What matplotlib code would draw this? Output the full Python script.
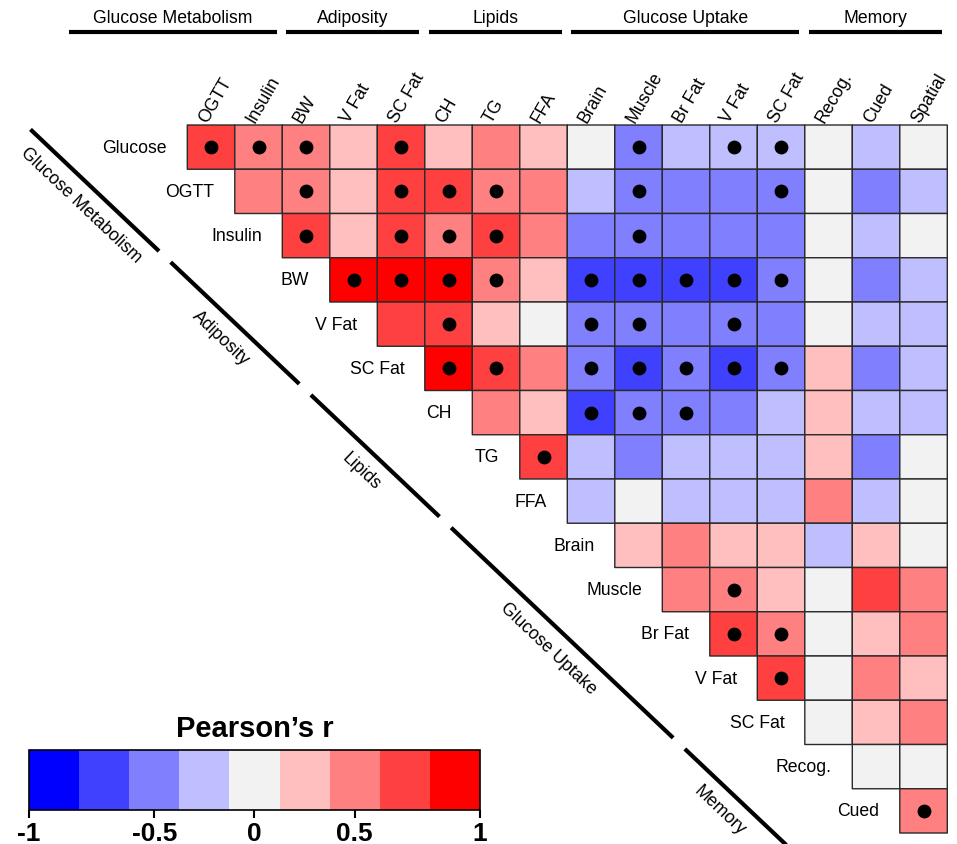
import numpy as np
import matplotlib
matplotlib.use("Agg")
import matplotlib.pyplot as plt
from matplotlib.colors import ListedColormap, BoundaryNorm

plt.rcParams["font.family"] = ["Liberation Sans", "DejaVu Sans"]

# ---- data ----
row_labels = ["Glucose", "OGTT", "Insulin", "BW", "V Fat", "SC Fat", "CH", "TG", "FFA",
              "Brain", "Muscle", "Br Fat", "V Fat", "SC Fat", "Recog.", "Cued"]
col_labels = ["OGTT", "Insulin", "BW", "V Fat", "SC Fat", "CH", "TG", "FFA",
              "Brain", "Muscle", "Br Fat", "V Fat", "SC Fat", "Recog.", "Cued", "Spatial"]

# upper triangle, row i holds columns i..15 (Pearson's r)
r_glucose = [0.75, 0.5, 0.5, 0.25, 0.75, 0.25, 0.5, 0.25, 0, -0.5, -0.25, -0.25, -0.25, 0, -0.25, 0]
r_ogtt = [0.5, 0.5, 0.25, 0.75, 0.75, 0.5, 0.5, -0.25, -0.5, -0.5, -0.5, -0.5, 0, -0.5, -0.25]
r_insulin = [0.75, 0.25, 0.75, 0.5, 0.75, 0.5, -0.5, -0.5, -0.5, -0.5, -0.5, 0, -0.25, 0]
r_bw = [1, 1, 1, 0.5, 0.25, -0.75, -0.75, -0.75, -0.75, -0.5, 0, -0.5, -0.25]
r_vfat = [0.75, 0.75, 0.25, 0, -0.5, -0.5, -0.5, -0.5, -0.5, 0, -0.25, -0.25]
r_scfat = [1, 0.75, 0.5, -0.5, -0.75, -0.5, -0.75, -0.5, 0.25, -0.5, -0.25]
r_ch = [0.5, 0.25, -0.75, -0.5, -0.5, -0.5, -0.25, 0.25, -0.25, -0.25]
r_tg = [0.75, -0.25, -0.5, -0.25, -0.25, -0.25, 0.25, -0.5, 0]
r_ffa = [-0.25, 0, -0.25, -0.25, -0.25, 0.5, -0.25, 0]
r_brain = [0.25, 0.5, 0.25, 0.25, -0.25, 0.25, 0]
r_muscle = [0.5, 0.5, 0.25, 0, 0.75, 0.5]
r_brfat = [0.75, 0.5, 0, 0.25, 0.5]
r_vfat_up = [0.75, 0, 0.5, 0.25]
r_scfat_up = [0, 0.25, 0.5]
r_recog = [0, 0]
r_cued = [0.5]
rows_r = [r_glucose, r_ogtt, r_insulin, r_bw, r_vfat, r_scfat, r_ch, r_tg, r_ffa,
          r_brain, r_muscle, r_brfat, r_vfat_up, r_scfat_up, r_recog, r_cued]

# significant cells: row -> column indices
sig = {0: [0, 1, 2, 4, 9, 11, 12], 1: [2, 4, 5, 6, 9, 12], 2: [2, 4, 5, 6, 9],
       3: [3, 4, 5, 6, 8, 9, 10, 11, 12], 4: [5, 8, 9, 11], 5: [5, 6, 8, 9, 10, 11, 12],
       6: [8, 9, 10], 7: [7], 10: [11], 11: [11, 12], 12: [12], 15: [15]}

group_names = ["Glucose Metabolism", "Adiposity", "Lipids", "Glucose Uptake", "Memory"]
group_rows = [3, 3, 3, 5, 3]
group_cols = [2, 3, 3, 5, 3]

bin_colors = ["#0000FF", "#4040FF", "#8080FF", "#BFBFFF", "#F2F2F2",
              "#FFBFBF", "#FF8080", "#FF4040", "#FF0000"]

n = len(row_labels)
M = np.full((n, n), np.nan)
for i, vals in enumerate(rows_r):
    M[i, i:] = vals
M = np.ma.masked_invalid(M)

cmap = ListedColormap(bin_colors)
norm = BoundaryNorm(np.linspace(-1.125, 1.125, 10), cmap.N)

W, H = 957, 845
FS = 12.7
fig = plt.figure(figsize=(W / 100, H / 100), dpi=100)
ax = fig.add_axes([187.3 / W, (H - 834) / H, 760 / W, 708 / H])
# pcolor drops masked cells, so the lower triangle stays empty
mesh = ax.pcolor(np.arange(n + 1), np.arange(n + 1), M, cmap=cmap, norm=norm,
                 edgecolors="#2a2a2a", linewidth=1.0)
mesh.set_clip_on(False)
ax.set_xlim(0, n)
ax.set_ylim(n, 0)
ax.axis("off")

# significance dots
sx = [j + 0.5 for i in sig for j in sig[i]]
sy = [i + 0.5 for i in sig for j in sig[i]]
ax.scatter(sx, sy, s=80, color="black", zorder=3, clip_on=False)

# labels
for i, lab in enumerate(row_labels):
    ax.text(i - 0.43, i + 0.5, lab, ha="right", va="center", fontsize=FS)
for j, lab in enumerate(col_labels):
    ax.text(j + 0.33, -0.1, lab, rotation=60, rotation_mode="anchor",
            ha="left", va="center", fontsize=FS, clip_on=False)

# group headers on top
c0 = 0
for k, (name, nc) in enumerate(zip(group_names, group_cols)):
    a = -2.5 if k == 0 else c0 + 0.08
    b = c0 + nc - 0.12
    ax.plot([a, b], [-2.1, -2.1], color="black", lw=3, solid_capstyle="butt", clip_on=False)
    ax.text((a + b) / 2, -2.44, name, ha="center", va="center", fontsize=FS)
    c0 += nc

# group lines along the diagonal
r0 = 0
for name, nr in zip(group_names, group_rows):
    y0, y1 = r0 + 0.1, r0 + nr - 0.15
    x0, x1 = 0.984 * y0 - 3.4, 0.984 * y1 - 3.4
    ax.plot([x0, x1], [y0, y1], color="black", lw=3, solid_capstyle="butt", clip_on=False)
    p0 = ax.transData.transform((x0, y0))
    p1 = ax.transData.transform((x1, y1))
    ang = np.degrees(np.arctan2(p1[1] - p0[1], p1[0] - p0[0]))
    ym = (y0 + min(y1, 16.2)) / 2
    xm = 0.984 * ym - 3.4
    ax.annotate(name, xy=(xm, ym), xytext=(-10, -10.5), textcoords="offset points",
                rotation=ang, rotation_mode="anchor", ha="center", va="center",
                fontsize=FS, annotation_clip=False)
    r0 += nr

# colour bar
cax = fig.add_axes([29 / W, (H - 811) / H, 451 / W, 60.3 / H])
cb = fig.colorbar(mesh, cax=cax, orientation="horizontal")
cb.minorticks_off()
cb.set_ticks([-1.125, -0.5, 0, 0.5, 1.125])
cb.set_ticklabels(["-1", "-0.5", "0", "0.5", "1"])
cb.outline.set_linewidth(1.2)
cax.tick_params(which="minor", length=0)
cax.tick_params(length=6, width=1.5, direction="out", pad=2, labelsize=19)
for t in cax.get_xticklabels():
    t.set_fontweight("bold")
cax.set_title("Pearson\u2019s r", fontsize=21, fontweight="bold", pad=10)

fig.savefig("out.png", dpi=100)
